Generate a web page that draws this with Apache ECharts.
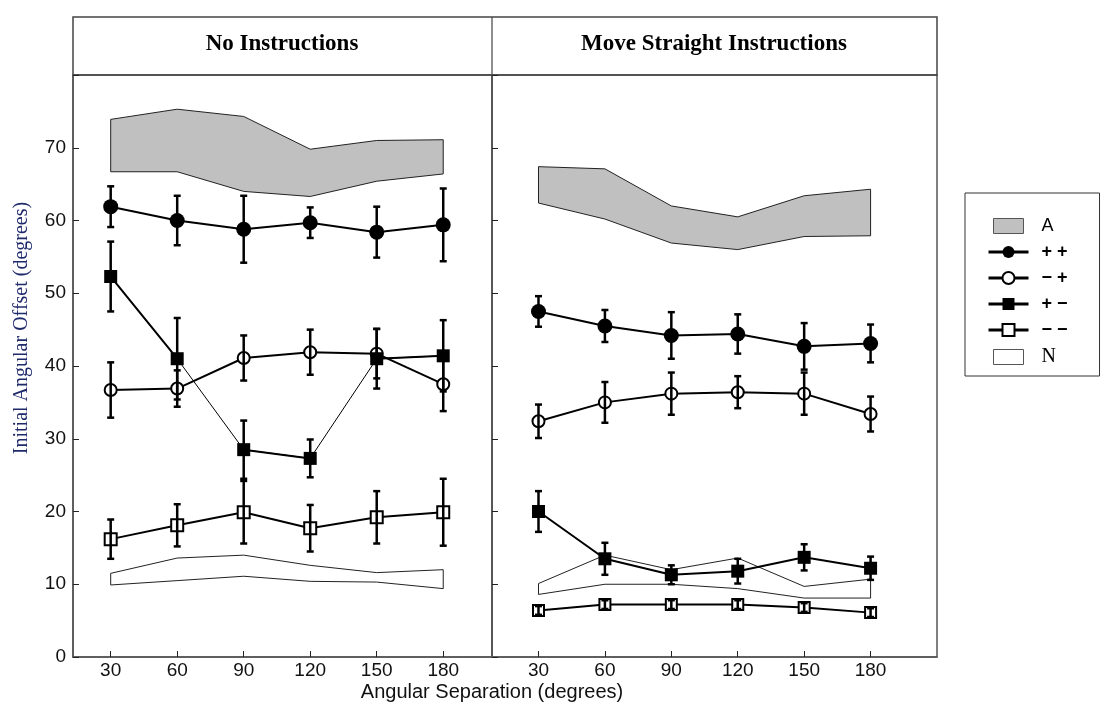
<!DOCTYPE html>
<html>
<head>
<meta charset="utf-8">
<script src="https://cdn.jsdelivr.net/npm/echarts@6/dist/echarts.min.js"></script>
<style>
  html, body { margin: 0; padding: 0; background: #fff; }
  #chart { width: 1110px; height: 712px; }
</style>
</head>
<body>
<div id="chart"></div>
<script>
// Angular separations (degrees)
const angles = [30, 60, 90, 120, 150, 180];
const tickValues = [30, 60, 90, 120, 150, 180];

// Panel titles and series names
const panelTitles = ['No Instructions', 'Move Straight Instructions'];
const seriesNames = ['+ +', '\u2212 +', '+ \u2212', '\u2212 \u2212'];

// ---- No Instructions ----
const bandA_hi_L = [73.9, 75.3, 74.3, 69.8, 71.0, 71.1];
const bandA_lo_L = [66.7, 66.7, 64.0, 63.3, 65.4, 66.4];
const pp_L = [61.9, 60.0, 58.8, 59.7, 58.4, 59.4];
const pp_err_L = [2.8, 3.4, 4.6, 2.1, 3.5, 5.0];
const mp_L = [36.7, 36.9, 41.1, 41.9, 41.7, 37.5];
const mp_err_L = [3.8, 2.5, 3.1, 3.1, 3.4, 3.7];
const pm_L = [52.3, 41.0, 28.5, 27.3, 41.0, 41.4];
const pm_err_L = [4.8, 5.6, 4.0, 2.6, 4.1, 4.9];
const mm_L = [16.2, 18.1, 19.9, 17.7, 19.2, 19.9];
const mm_err_L = [2.7, 2.9, 4.3, 3.2, 3.6, 4.6];
const bandN_hi_L = [11.5, 13.6, 14.0, 12.6, 11.6, 12.0];
const bandN_lo_L = [9.9, 10.5, 11.1, 10.4, 10.3, 9.4];

// ---- Move Straight Instructions ----
const bandA_hi_R = [67.4, 67.1, 62.0, 60.5, 63.4, 64.3];
const bandA_lo_R = [62.4, 60.2, 56.9, 56.0, 57.8, 57.9];
const pp_R = [47.5, 45.5, 44.2, 44.4, 42.7, 43.1];
const pp_err_R = [2.1, 2.2, 3.2, 2.7, 3.2, 2.6];
const mp_R = [32.4, 35.0, 36.2, 36.4, 36.2, 33.4];
const mp_err_R = [2.3, 2.8, 2.9, 2.2, 2.9, 2.4];
const pm_R = [20.0, 13.5, 11.3, 11.8, 13.7, 12.2];
const pm_err_R = [2.8, 2.2, 1.3, 1.7, 1.8, 1.6];
const mm_R = [6.4, 7.2, 7.2, 7.2, 6.8, 6.1];
const mm_err_R = [0.6, 0.6, 0.6, 0.6, 0.6, 0.6];
const bandN_hi_R = [10.1, 14.0, 12.0, 13.6, 9.7, 10.7];
const bandN_lo_R = [8.6, 10.0, 10.0, 9.4, 8.1, 8.1];

const INK = '#000';
const AXIS = '#555';
const GREY = '#c0c0c0';

function pts(vals) { return angles.map((a, i) => [a, vals[i]]); }

// shaded range drawn as one closed polygon
function band(name, idx, hi, lo, fill) {
  return {
    type: 'custom', name: name, xAxisIndex: idx, yAxisIndex: idx,
    silent: true, z: 1,
    itemStyle: { color: fill, borderColor: '#333' },
    data: angles.map((a, i) => [a, lo[i], hi[i]]),
    encode: { x: 0, y: [1, 2] },
    renderItem: function (params, api) {
      if (params.dataIndex !== 0) return null;
      const top = angles.map((a, i) => api.coord([a, hi[i]]));
      const bottom = angles.map((a, i) => api.coord([a, lo[i]])).reverse();
      return {
        type: 'polygon',
        shape: { points: top.concat(bottom) },
        style: { fill: fill, stroke: '#222', lineWidth: 1 }
      };
    }
  };
}

// vertical error bars with caps
function errors(idx, vals, errs) {
  return {
    type: 'custom', xAxisIndex: idx, yAxisIndex: idx, silent: true, z: 6,
    data: angles.map((a, i) => [a, vals[i] - errs[i], vals[i] + errs[i]]),
    encode: { x: 0, y: [1, 2] },
    renderItem: function (params, api) {
      const x = api.value(0);
      const lo = api.coord([x, api.value(1)]);
      const hi = api.coord([x, api.value(2)]);
      const w = 3.5;
      const style = { stroke: INK, lineWidth: 2.5 };
      return {
        type: 'group',
        children: [
          { type: 'line', shape: { x1: lo[0], y1: lo[1], x2: hi[0], y2: hi[1] }, style: style },
          { type: 'line', shape: { x1: lo[0] - w, y1: lo[1], x2: lo[0] + w, y2: lo[1] }, style: style },
          { type: 'line', shape: { x1: hi[0] - w, y1: hi[1], x2: hi[0] + w, y2: hi[1] }, style: style }
        ]
      };
    }
  };
}

function line(name, idx, vals, symbol, size, width) {
  const empty = symbol.indexOf('empty') === 0;
  return {
    type: 'line', name: name, xAxisIndex: idx, yAxisIndex: idx,
    data: pts(vals), symbol: symbol, symbolSize: size, z: 4,
    lineStyle: { color: INK, width: width },
    itemStyle: { color: INK, borderColor: INK, borderWidth: empty ? 2 : 0 },
    emphasis: { disabled: true }, animation: false
  };
}

// heavier segments of the "+ −" curve in the first panel (breaks after 60 and 120)
const pmHeavy_L = [
  [angles[0], pm_L[0]], [angles[1], pm_L[1]], [angles[1], null],
  [angles[2], pm_L[2]], [angles[3], pm_L[3]], [angles[3], null],
  [angles[4], pm_L[4]], [angles[5], pm_L[5]]
];

const series = [
  band('A', 0, bandA_hi_L, bandA_lo_L, GREY),
  band('N', 0, bandN_hi_L, bandN_lo_L, '#fff'),
  line(seriesNames[0], 0, pp_L, 'circle', 15, 2),
  line(seriesNames[1], 0, mp_L, 'emptyCircle', 12, 2),
  line(seriesNames[2], 0, pm_L, 'rect', 13, 1),
  {
    type: 'line', xAxisIndex: 0, yAxisIndex: 0, data: pmHeavy_L, symbol: 'none',
    connectNulls: false, z: 3, lineStyle: { color: INK, width: 2 }, silent: true, animation: false
  },
  line(seriesNames[3], 0, mm_L, 'emptyRect', 12, 2),
  errors(0, pp_L, pp_err_L),
  errors(0, mp_L, mp_err_L),
  errors(0, pm_L, pm_err_L),
  errors(0, mm_L, mm_err_L),

  band('A', 1, bandA_hi_R, bandA_lo_R, GREY),
  band('N', 1, bandN_hi_R, bandN_lo_R, '#fff'),
  line(seriesNames[0], 1, pp_R, 'circle', 15, 2),
  line(seriesNames[1], 1, mp_R, 'emptyCircle', 12, 2),
  line(seriesNames[2], 1, pm_R, 'rect', 13, 2),
  line(seriesNames[3], 1, mm_R, 'emptyRect', 11, 2),
  errors(1, pp_R, pp_err_R),
  errors(1, mp_R, mp_err_R),
  errors(1, pm_R, pm_err_R),
  errors(1, mm_R, mm_err_R)
];

function xAxis(idx, min, max) {
  return {
    type: 'value', gridIndex: idx, min: min, max: max,
    splitLine: { show: false },
    axisLine: { show: true, lineStyle: { color: AXIS, width: 1.5 } },
    axisTick: { show: true, inside: true, length: 6, customValues: tickValues, lineStyle: { color: '#222', width: 1 } },
    axisLabel: { customValues: tickValues, margin: 4, color: '#111', fontFamily: 'Liberation Sans', fontSize: 19 }
  };
}
function yAxis(idx, showLabels) {
  return {
    type: 'value', gridIndex: idx, min: 0, max: 80, interval: 10,
    splitLine: { show: false },
    axisLine: { show: true, lineStyle: { color: AXIS, width: 1.5 } },
    axisTick: { show: true, inside: true, length: 6, lineStyle: { color: '#222', width: 1 } },
    axisLabel: {
      show: showLabels, margin: 7, color: '#111', fontFamily: 'Liberation Sans', fontSize: 19,
      formatter: function (v) { return v === 80 ? '' : String(v); }
    }
  };
}

const boxPath = 'path://M0,0H30V15H0Z';

const option = {
  backgroundColor: '#fff',
  animation: false,
  grid: [
    { left: 73, top: 75, width: 419, height: 582, show: true, borderColor: AXIS, borderWidth: 1.5, backgroundColor: 'transparent' },
    { left: 492, top: 75, width: 445, height: 582, show: true, borderColor: AXIS, borderWidth: 1.5, backgroundColor: 'transparent' }
  ],
  xAxis: [xAxis(0, 13, 202), xAxis(1, 9, 210)],
  yAxis: [yAxis(0, true), yAxis(1, false)],
  legend: {
    orient: 'vertical', left: 965, top: 193,
    padding: [24, 32, 9, 22],
    itemWidth: 40, itemHeight: 15, itemGap: 8,
    borderColor: '#333', borderWidth: 1,
    selectedMode: false,
    lineStyle: { color: INK, width: 3 },
    textStyle: { color: '#000', fontFamily: 'Liberation Sans', fontSize: 18, fontWeight: 'bold', padding: [0, 0, 0, 8] },
    data: [
      { name: 'A', icon: boxPath, itemStyle: { color: GREY, borderColor: '#555', borderWidth: 1 }, textStyle: { fontWeight: 'normal' } },
      { name: seriesNames[0] },
      { name: seriesNames[1] },
      { name: seriesNames[2] },
      { name: seriesNames[3] },
      { name: 'N', icon: boxPath, itemStyle: { color: '#fff', borderColor: '#555', borderWidth: 1 },
        textStyle: { fontFamily: 'Liberation Serif', fontWeight: 'normal', fontSize: 20 } }
    ]
  },
  graphic: [
    { type: 'rect', shape: { x: 73, y: 17, width: 864, height: 58 }, style: { fill: 'none', stroke: '#444', lineWidth: 1.5 }, silent: true },
    { type: 'line', shape: { x1: 492, y1: 17, x2: 492, y2: 75 }, style: { stroke: '#444', lineWidth: 1.2 }, silent: true },
    { type: 'text', x: 282, y: 44, style: { text: panelTitles[0], font: 'bold 23px "Liberation Serif"', fill: '#000', textAlign: 'center', textVerticalAlign: 'middle' }, silent: true },
    { type: 'text', x: 714, y: 44, style: { text: panelTitles[1], font: 'bold 23px "Liberation Serif"', fill: '#000', textAlign: 'center', textVerticalAlign: 'middle' }, silent: true },
    { type: 'text', x: 22, y: 328, rotation: Math.PI / 2, style: { text: 'Initial Angular Offset (degrees)', font: '20px "Liberation Serif"', fill: '#1f2a6b', textAlign: 'center', textVerticalAlign: 'middle' }, silent: true },
    { type: 'text', x: 492, y: 692, style: { text: 'Angular Separation (degrees)', font: '20px "Liberation Sans"', fill: '#111', textAlign: 'center', textVerticalAlign: 'middle' }, silent: true }
  ],
  series: series
};

const chart = echarts.init(document.getElementById('chart'), null, { renderer: 'canvas' });
chart.setOption(option);
</script>
</body>
</html>
